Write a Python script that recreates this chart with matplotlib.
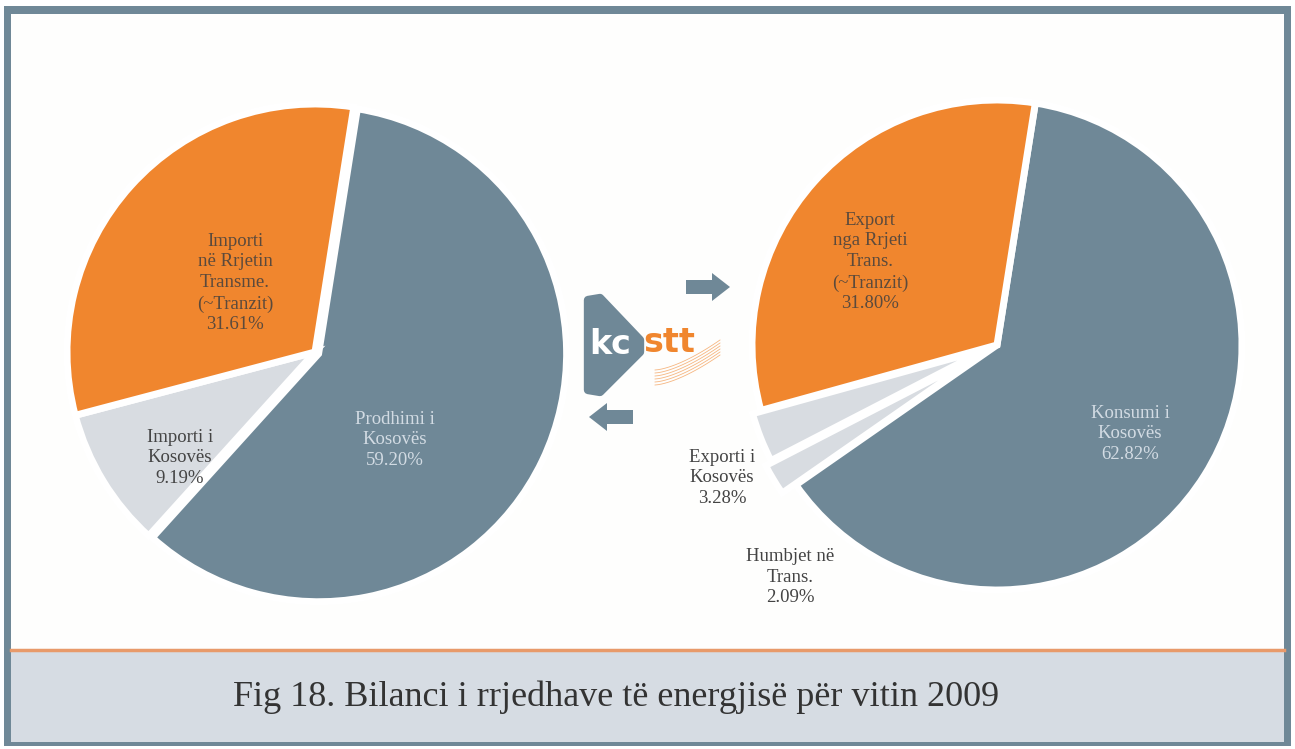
import matplotlib.pyplot as plt
from matplotlib.patches import Rectangle, Polygon
import numpy as np

# Te dhenat
hyrje_labels = ["Prodhimi i\nKosovës\n59.20%", "Importi i\nKosovës\n9.19%",
                "Importi\nnë Rrjetin\nTransme.\n(~Tranzit)\n31.61%"]
hyrje_vals = [59.20, 9.19, 31.61]

dalje_labels = ["Konsumi i\nKosovës\n62.82%", "Humbjet në\nTrans.\n2.09%",
                "Exporti i\nKosovës\n3.28%", "Export\nnga Rrjeti\nTrans.\n(~Tranzit)\n31.80%"]
dalje_vals = [62.82, 2.09, 3.28, 31.80]

titulli = "Fig 18. Bilanci i rrjedhave të energjisë për vitin 2009"

# Ngjyrat
SLATE = "#6f8897"
ORANGE = "#f0862e"
GRAY = "#d8dce1"
BAND = "#d6dce3"

W, H = 1295, 749
fig = plt.figure(figsize=(W / 100, H / 100), dpi=100)
ax = fig.add_axes([0, 0, 1, 1])

def Y(y):  # pixel nga lart -> koordinata
    return H - y

serif = ["Liberation Serif", "DejaVu Serif"]
lbl = dict(ha="center", va="center", fontsize=13.5, family=serif, linespacing=1.3, zorder=5)

# Korniza
ax.add_patch(Rectangle((4, Y(746)), 1287, 740, facecolor=SLATE, edgecolor="none", zorder=0))
ax.add_patch(Rectangle((11, Y(651)), 1273, 637, facecolor="#fefefd", edgecolor="none", zorder=1))
ax.add_patch(Rectangle((11, Y(742)), 1273, 90, facecolor=BAND, edgecolor="none", zorder=1))
ax.plot([11, 1284], [Y(650), Y(650)], color="#e89a6a", lw=2.5, zorder=2)

# Pite e majte (explode ne njesi te boshtit = piksel)
ax.pie(hyrje_vals, colors=[SLATE, GRAY, ORANGE], startangle=81, counterclock=False,
       center=(315, Y(352)), radius=248, explode=[4, 0, 0],
       wedgeprops=dict(edgecolor="white", linewidth=5), frame=True)
ax.text(395, Y(440), hyrje_labels[0], color="#d2dbe3", **lbl)
ax.text(180, Y(458), hyrje_labels[1], color="#444444", **lbl)
ax.text(235, Y(283), hyrje_labels[2], color="#5b4a3c", **lbl)

# Pite e djathte
ax.pie(dalje_vals, colors=[SLATE, GRAY, GRAY, ORANGE], startangle=81, counterclock=False,
       center=(997, Y(345)), radius=245, explode=[0, 16, 9, 0],
       wedgeprops=dict(edgecolor="white", linewidth=5), frame=True)
ax.text(1130, Y(434), dalje_labels[0], color="#d2dbe3", **lbl)
ax.text(790, Y(577), dalje_labels[1], color="#444444", **lbl)
ax.text(722, Y(478), dalje_labels[2], color="#444444", **lbl)
ax.text(870, Y(262), dalje_labels[3], color="#5b4a3c", **lbl)

# pie() ndryshon kufijte, i rivendosim
ax.set_xlim(0, W)
ax.set_ylim(0, H)
ax.set_aspect("equal")
ax.axis("off")

# Logo KOSTT
ax.add_patch(Polygon([(588, Y(300)), (600, Y(298)), (640, Y(340)), (640, Y(352)),
                      (600, Y(392)), (588, Y(390))], closed=True,
                     facecolor=SLATE, edgecolor=SLATE, lw=6, joinstyle="round", zorder=6))
ax.text(589, Y(345), "kc", ha="left", va="center", fontsize=24, fontweight="bold",
        color="white", family="DejaVu Sans", zorder=7)
ax.text(643, Y(343), "stt", ha="left", va="center", fontsize=24, fontweight="bold",
        color=ORANGE, family="DejaVu Sans", zorder=7)
for k in range(6):
    t = np.linspace(0, 1, 20)
    ax.plot(655 + 65 * t, Y(385 - 30 * t ** 1.5 - k * 3), color=ORANGE, lw=0.6, alpha=0.6, zorder=6)

# Shigjetat
ax.add_patch(Polygon([(686, Y(280)), (712, Y(280)), (712, Y(273)), (730, Y(287)),
                      (712, Y(301)), (712, Y(294)), (686, Y(294))], closed=True,
                     facecolor=SLATE, edgecolor="none", zorder=6))
ax.add_patch(Polygon([(633, Y(410)), (607, Y(410)), (607, Y(403)), (589, Y(417)),
                      (607, Y(431)), (607, Y(424)), (633, Y(424))], closed=True,
                     facecolor=SLATE, edgecolor="none", zorder=6))

# Titulli
ax.text(616, Y(697), titulli, ha="center", va="center", fontsize=26,
        color="#333333", family=serif, zorder=5)

fig.savefig("out.png", dpi=100, facecolor="white")
